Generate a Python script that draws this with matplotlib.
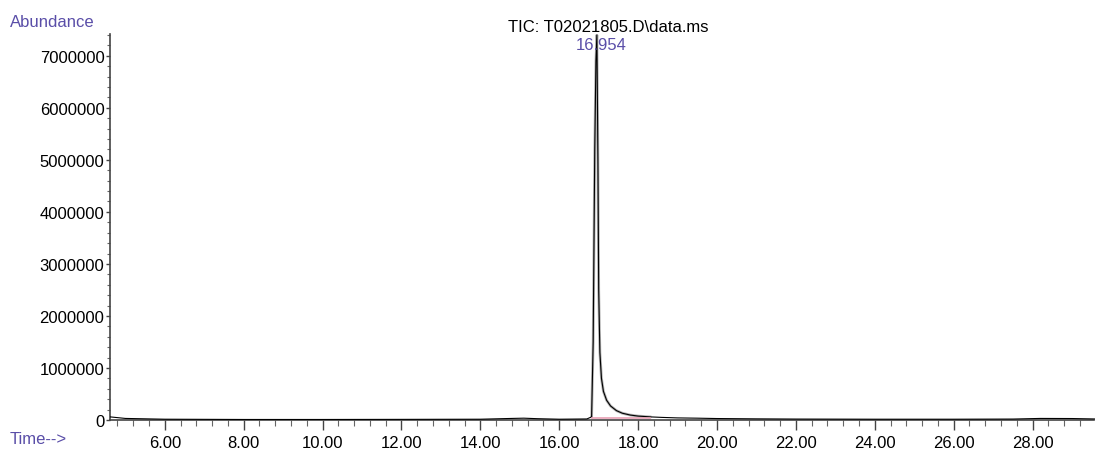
import matplotlib.pyplot as plt
from matplotlib.ticker import MultipleLocator, AutoMinorLocator, FormatStrFormatter

plt.rcParams['font.family'] = ['Liberation Sans', 'DejaVu Sans']

# TIC trace (time in min, abundance in counts)
time = [4.61, 5.0, 6.0, 8.0, 10.0, 12.0, 14.0, 14.8, 15.1, 15.45, 16.0, 16.7,
        16.82, 16.86, 16.90, 16.93, 16.954, 16.98, 17.00, 17.03, 17.07, 17.12,
        17.2, 17.3, 17.45, 17.6, 17.8, 18.0, 18.3, 18.6, 19.0, 19.5, 20.0,
        21.0, 22.0, 24.0, 26.0, 27.5, 28.2, 29.0, 29.57]
abundance = [60000, 30000, 15000, 10000, 10000, 12000, 15000, 30000, 35000,
             25000, 15000, 20000, 60000, 1500000, 5200000, 6900000, 7400000,
             5000000, 2500000, 1300000, 800000, 550000, 380000, 270000,
             180000, 130000, 95000, 75000, 60000, 50000, 40000, 35000, 28000,
             22000, 18000, 15000, 15000, 18000, 30000, 28000, 20000]

# integrated peak region and its baseline
peak_start, peak_end = 16.82, 18.3
baseline_level = 30000
peak_rt = 16.954

title = 'TIC: T02021805.D\\data.ms'
purple = '#5a4ea8'

fig = plt.figure(figsize=(11, 4.52), dpi=100)
ax = fig.add_axes([0.1, 0.0686, 0.895, 0.854])

# grey outline of integrated area, then the trace on top
pt = [t for t in time if peak_start <= t <= peak_end]
pa = [a for t, a in zip(time, abundance) if peak_start <= t <= peak_end]
ax.plot(pt, pa, color='#b4b4b4', lw=2.0, zorder=2)
ax.plot(time, abundance, color='black', lw=0.8, zorder=3)
ax.plot([peak_start, peak_end], [baseline_level, baseline_level],
        color='#e8a0b4', lw=1.2, zorder=4)

ax.set_xlim(4.61, 29.57)
ax.set_ylim(0, 7420000)

ax.xaxis.set_major_locator(MultipleLocator(2))
ax.xaxis.set_minor_locator(AutoMinorLocator(5))
ax.xaxis.set_major_formatter(FormatStrFormatter('%.2f'))
ax.yaxis.set_major_locator(MultipleLocator(1000000))
ax.yaxis.set_minor_locator(AutoMinorLocator(5))
ax.yaxis.set_major_formatter(FormatStrFormatter('%d'))

ax.tick_params(axis='x', which='major', length=7, width=1, color='#444444',
               labelsize=12, pad=4)
ax.tick_params(axis='x', which='minor', length=4, width=0.8, color='#666666')
ax.tick_params(axis='y', which='major', length=3, width=1, color='#444444',
               labelsize=12, pad=1)
ax.tick_params(axis='y', which='minor', length=2, width=0.8, color='#666666')

for s in ['top', 'right']:
    ax.spines[s].set_visible(False)
for s in ['left', 'bottom']:
    ax.spines[s].set_color('#444444')
    ax.spines[s].set_linewidth(1.2)

fig.text(0.009, 0.95, 'Abundance', color=purple, fontsize=12, va='center')
fig.text(0.009, 0.027, 'Time-->', color=purple, fontsize=12, va='center')
fig.text(0.553, 0.94, title, color='black', fontsize=12, ha='center', va='center')
ax.text(peak_rt + 0.12, 0.972, '%.3f' % peak_rt, color=purple, fontsize=12,
        ha='center', va='center', transform=ax.get_xaxis_transform())

fig.savefig('out.png', dpi=100)
